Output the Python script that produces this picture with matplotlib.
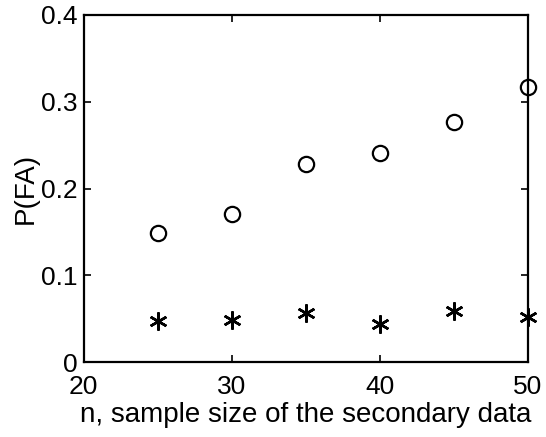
import matplotlib.pyplot as plt

# n values and estimated probabilities of false alarm
n_vals = [25, 30, 35, 40, 45, 50]
pfa_circle = [0.149, 0.171, 0.228, 0.241, 0.277, 0.317]
pfa_star = [0.047, 0.049, 0.057, 0.044, 0.059, 0.052]

plt.rcParams['font.family'] = ['Liberation Sans', 'DejaVu Sans']

fig = plt.figure(figsize=(5.46, 4.37), dpi=100)
ax = fig.add_axes([0.153, 0.171, 0.814, 0.795])

ax.plot(n_vals, pfa_circle, linestyle='none', marker='o', markersize=11,
        markerfacecolor='none', markeredgecolor='black', markeredgewidth=1.6,
        clip_on=False)
ax.plot(n_vals, pfa_star, linestyle='none', marker=(6, 2, 0), markersize=13,
        color='black', markeredgewidth=1.8, clip_on=False)

ax.set_xlim(20, 50)
ax.set_ylim(0, 0.4)
ax.set_xticks([20, 30, 40, 50])
ax.set_yticks([0, 0.1, 0.2, 0.3, 0.4])
ax.set_yticklabels(['0', '0.1', '0.2', '0.3', '0.4'])
ax.tick_params(direction='in', length=5, width=1.2, top=True, right=True,
               labelsize=19)
ax.tick_params(axis='x', pad=9)
ax.tick_params(axis='y', pad=4)
for s in ax.spines.values():
    s.set_linewidth(1.6)

ax.set_xlabel('n, sample size of the secondary data', fontsize=20, labelpad=2)
ax.set_ylabel('P(FA)', fontsize=20, labelpad=2)

fig.savefig('out.png', dpi=100)
